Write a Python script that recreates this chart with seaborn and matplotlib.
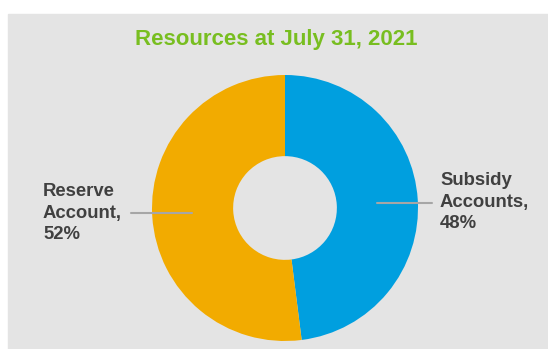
import matplotlib
matplotlib.use("Agg")
import matplotlib.pyplot as plt
from matplotlib.patches import Rectangle
import seaborn as sns

# Data
labels = ["Subsidy\nAccounts,\n48%", "Reserve\nAccount,\n52%"]
shares = [48, 52]
colors = ["#009FDF", "#F2AB00"]
title = "Resources at July 31, 2021"

sns.set_theme(style="white")
plt.rcParams["font.family"] = ["Liberation Sans", "DejaVu Sans"]

W, H = 548, 349
CX, CY, R = 285, 208, 133


def px(x, y):
    # pixel position -> data coords (pie radius = 1)
    return (x - CX) / R, (CY - y) / R


fig = plt.figure(figsize=(W / 100, H / 100), dpi=100)
fig.patch.set_facecolor("white")
ax = fig.add_axes([0, 0, 1, 1])

ax.pie(shares, colors=colors, startangle=90, counterclock=False, radius=1,
       wedgeprops=dict(width=0.61, linewidth=0), center=(0, 0))

# pie() resets the limits, so set them afterwards
ax.set_aspect("auto")
ax.set_xlim(px(0, 0)[0], px(W, 0)[0])
ax.set_ylim(px(0, H)[1], px(0, 0)[1])
ax.set_axis_off()

# grey panel
x0, y1 = px(8, 14)
x1, y0 = px(W, H)
ax.add_patch(Rectangle((x0, y0), x1 - x0, y1 - y0, color="#E4E4E4", zorder=0))

# title
tx, ty = px(276, 40)
ax.text(tx, ty, title, ha="center", va="center", fontsize=16,
        fontweight="bold", color="#78BE20")

# leader lines
for (xa, xb, yy) in [(131, 192, 213), (377, 432, 203)]:
    a = px(xa, yy)
    b = px(xb, yy)
    ax.plot([a[0], b[0]], [a[1], b[1]], color="#A6A6A6", lw=1.5, zorder=3)

# labels
lx, ly = px(43, 183)
ax.text(lx, ly, labels[1], ha="left", va="top", fontsize=13.3,
        fontweight="bold", color="#404040", linespacing=1.35)
rx, ry = px(440, 172)
ax.text(rx, ry, labels[0], ha="left", va="top", fontsize=13.3,
        fontweight="bold", color="#404040", linespacing=1.35)

fig.savefig("out.png", dpi=100)
